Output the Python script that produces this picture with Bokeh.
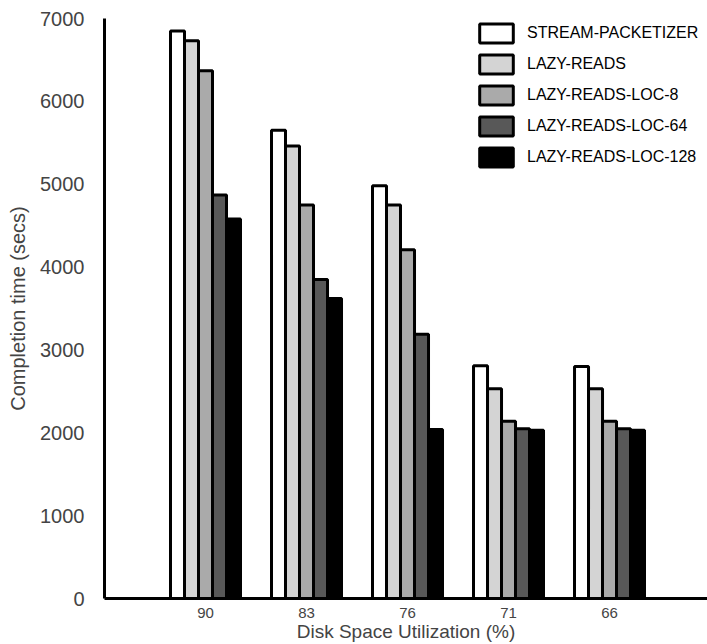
from bokeh.plotting import figure
from bokeh.models import Range1d, FixedTicker, Legend, LegendItem, ColumnDataSource
from bokeh.embed import file_html
from bokeh.resources import INLINE

utilization = ["90", "83", "76", "71", "66"]
series_names = ["STREAM-PACKETIZER", "LAZY-READS", "LAZY-READS-LOC-8",
                "LAZY-READS-LOC-64", "LAZY-READS-LOC-128"]
stream = [6850, 5650, 4980, 2810, 2800]
lazy = [6730, 5460, 4750, 2530, 2530]
loc8 = [6370, 4750, 4210, 2140, 2140]
loc64 = [4870, 3850, 3190, 2050, 2050]
loc128 = [4580, 3620, 2040, 2030, 2030]
series_values = [stream, lazy, loc8, loc64, loc128]
colors = ["#ffffff", "#d4d4d4", "#aaaaaa", "#585858", "#000000"]

FONT = "Liberation Sans"

p = figure(width=707, height=644, output_backend="svg", toolbar_location=None,
           x_range=Range1d(0, 5.97), y_range=Range1d(0, 7000),
           min_border_left=104, min_border_right=0, min_border_top=18,
           min_border_bottom=45)
p.outline_line_color = None
p.xgrid.grid_line_color = None
p.ygrid.grid_line_color = None
p.background_fill_color = "white"
p.border_fill_color = "white"

groups = list(range(1, len(utilization) + 1))
bw = 0.1386
items = []
for i, (name, vals, col) in enumerate(zip(series_names, series_values, colors)):
    xs = [g + (i - 2) * bw for g in groups]
    src = ColumnDataSource(dict(x=xs, top=vals))
    r = p.vbar(x="x", top="top", width=bw, bottom=0, source=src,
               fill_color=col, line_color="black", line_width=3)
    items.append(LegendItem(label=name, renderers=[r]))

legend = Legend(items=items, location=(371, 429), orientation="vertical",
                glyph_width=42, glyph_height=24, spacing=7, padding=0, margin=0,
                label_standoff=10, label_text_font=FONT,
                label_text_font_size="16px", label_text_color="black",
                border_line_alpha=0, background_fill_alpha=0)
p.add_layout(legend, "center")

# x axis
p.xaxis.ticker = FixedTicker(ticks=groups)
p.xaxis.major_label_overrides = {g: lab for g, lab in zip(groups, utilization)}
p.xaxis.axis_label = "Disk Space Utilization (%)"
p.xaxis.axis_label_text_font = FONT
p.xaxis.axis_label_text_font_size = "19px"
p.xaxis.axis_label_text_font_style = "normal"
p.xaxis.axis_label_standoff = 0
p.xaxis.major_label_text_font = FONT
p.xaxis.major_label_text_font_size = "15px"
p.xaxis.major_label_standoff = 3
p.xaxis.major_tick_line_color = None
p.xaxis.minor_tick_line_color = None
p.xaxis.axis_line_width = 3
p.xaxis.axis_line_color = "black"

# y axis
p.yaxis.ticker = FixedTicker(ticks=[0, 1000, 2000, 3000, 4000, 5000, 6000, 7000])
p.yaxis.axis_label = "Completion time (secs)"
p.yaxis.axis_label_text_font = FONT
p.yaxis.axis_label_text_font_size = "20px"
p.yaxis.axis_label_text_font_style = "normal"
p.yaxis.axis_label_standoff = 8
p.yaxis.major_label_text_font = FONT
p.yaxis.major_label_text_font_size = "20px"
p.yaxis.major_label_standoff = 14
p.yaxis.major_tick_line_color = None
p.yaxis.minor_tick_line_color = None
p.yaxis.axis_line_width = 3
p.yaxis.axis_line_color = "black"

open("out.html", "w").write(file_html(p, INLINE))
